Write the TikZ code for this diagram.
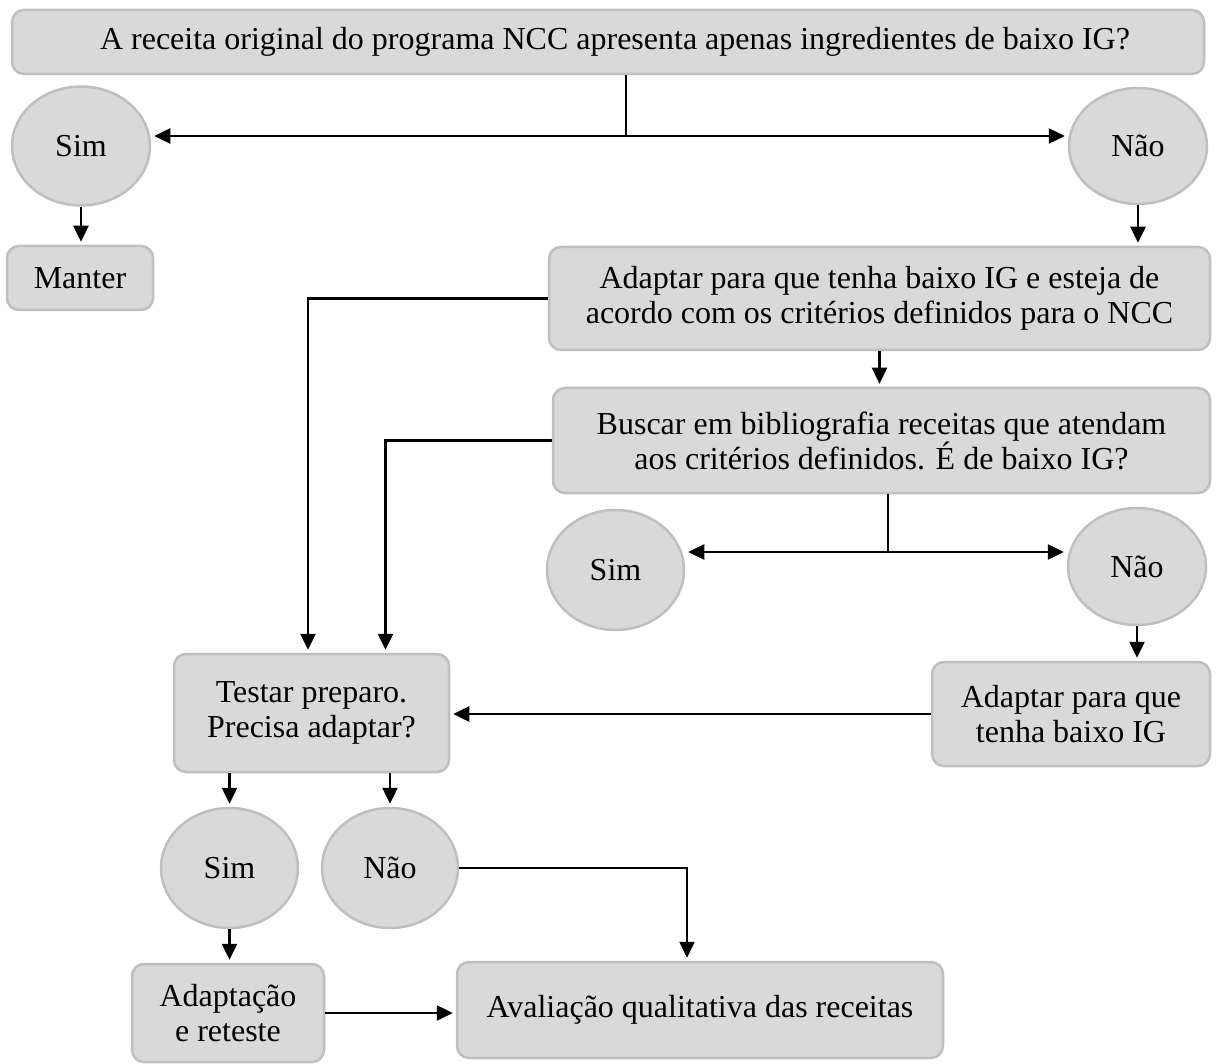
\documentclass[tikz,border=0pt]{standalone}
\usepackage{fontspec}
\setmainfont{Liberation Serif}
\usepackage{tikz}
\usetikzlibrary{arrows.meta, shapes.geometric, calc}

\definecolor{boxfill}{HTML}{D9D9D9}
\definecolor{boxline}{HTML}{BFBFBF}

\begin{document}
\begin{tikzpicture}[
      x=1pt, y=-1pt,
      mybox/.style={
         rectangle,
         rounded corners=12pt,
         draw=boxline,
         fill=boxfill,
         line width=2.5pt,
         align=center,
         inner sep=0pt,
         font=\fontsize{32}{35}\selectfont},
      myellipse/.style={
         ellipse,
         draw=boxline,
         fill=boxfill,
         line width=2.5pt,
         inner sep=0pt,
         font=\fontsize{32}{35}\selectfont},
      myline/.style={line width=2.5pt},
      myarrow/.style={line width=2.5pt, -{Triangle[length=16pt,width=15pt]}, shorten >=3pt},
      biarrow/.style={line width=2.5pt, {Triangle[length=16pt,width=15pt]}-{Triangle[length=16pt,width=15pt]}, shorten >=3pt, shorten <=3pt}
      ]
      \useasboundingbox (0,0) rectangle (1216,1064);

      % nodes
      \node[mybox, minimum width=1192pt, minimum height=64pt] (q1) at (608,42)
         {\hspace*{14pt}A receita original do programa NCC apresenta apenas ingredientes de baixo IG?};
      \node[myellipse, minimum width=138pt, minimum height=119pt] (sim1) at (81,146) {Sim};
      \node[myellipse, minimum width=138pt, minimum height=116pt] (nao1) at (1138,146) {Não};
      \node[mybox, minimum width=146pt, minimum height=64pt] (manter) at (80,278) {Manter};
      \node[mybox, minimum width=661pt, minimum height=103pt] (adapt1) at (879.5,298.5)
         {Adaptar para que tenha baixo IG e esteja de\\acordo com os critérios definidos para o NCC};
      \node[mybox, minimum width=657pt, minimum height=105pt] (busca) at (881.5,440.5)
         {Buscar em bibliografia receitas que atendam\\aos critérios definidos. É de baixo IG?};
      \node[myellipse, minimum width=137pt, minimum height=120pt] (sim2) at (615.5,570) {Sim};
      \node[myellipse, minimum width=138pt, minimum height=117pt] (nao2) at (1137,566.5) {Não};
      \node[mybox, minimum width=278pt, minimum height=104pt] (adapt2) at (1071,714)
         {Adaptar para que\\tenha baixo IG};
      \node[mybox, minimum width=275pt, minimum height=118pt] (teste) at (311.5,713)
         {Testar preparo.\\Precisa adaptar?};
      \node[myellipse, minimum width=137pt, minimum height=120pt] (sim3) at (229.5,868) {Sim};
      \node[myellipse, minimum width=136pt, minimum height=120pt] (nao3) at (390,868) {Não};
      \node[mybox, minimum width=192pt, minimum height=98pt] (adapt3) at (228,1013)
         {Adaptação\\e reteste};
      \node[mybox, minimum width=486pt, minimum height=96pt] (aval) at (700,1010)
         {Avaliação qualitativa das receitas};

      % branch points
      \coordinate (j1) at (626,136);
      \coordinate (j2) at (888,552);

      % connectors
      \draw[myline] (q1.south -| j1) -- (j1);
      \draw[biarrow] (j1 -| sim1.east) -- (j1 -| nao1.west);
      \draw[myarrow] (sim1.south) -- (sim1.south |- manter.north);
      \draw[myarrow] (nao1.south) -- (nao1.south |- adapt1.north);
      \draw[myarrow] (adapt1.south) -- (adapt1.south |- busca.north);
      \draw[myarrow] (adapt1.west) -| ([xshift=-3.5pt]teste.north);
      \draw[myarrow] (busca.west) -| ([xshift=74pt]teste.north);
      \draw[myline] (busca.south -| j2) -- (j2);
      \draw[biarrow] (j2 -| sim2.east) -- (j2 -| nao2.west);
      \draw[myarrow] (nao2.south) -- (nao2.south |- adapt2.north);
      \draw[myarrow] (adapt2.west) -- (adapt2.west -| teste.east);
      \draw[myarrow] (sim3.north |- teste.south) -- (sim3.north);
      \draw[myarrow] (nao3.north |- teste.south) -- (nao3.north);
      \draw[myarrow] (nao3.east) -| ([xshift=-13pt]aval.north);
      \draw[myarrow] (sim3.south) -- (sim3.south |- adapt3.north);
      \draw[myarrow] (adapt3.east) -- (adapt3.east -| aval.west);
\end{tikzpicture}
\end{document}
